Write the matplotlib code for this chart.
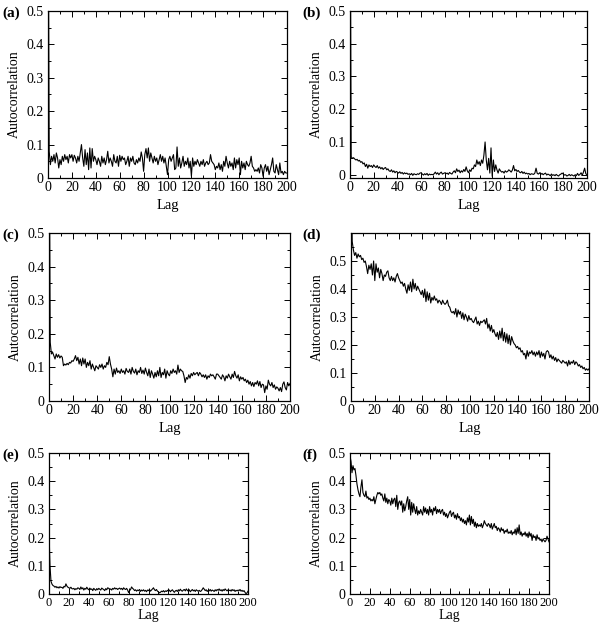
import numpy as np
import matplotlib
matplotlib.use("Agg")
import matplotlib.pyplot as plt
from matplotlib.ticker import MultipleLocator, FixedLocator, FuncFormatter

plt.rcParams['font.family'] = ['Liberation Serif', 'DejaVu Serif']

# autocorrelation, lags 0..200
acf_a = [1.0, 0.08, 0.04, 0.065, 0.05, 0.07, 0.045, 0.075, 0.06, 0.03,
         0.055, 0.04, 0.065, 0.05, 0.07, 0.055, 0.065, 0.045, 0.07, 0.06,
         0.07, 0.05, 0.068, 0.06, 0.045, 0.065, 0.05, 0.075, 0.1, 0.06,
         0.035, 0.085, 0.04, 0.075, 0.025, 0.09, 0.03, 0.088, 0.05, 0.065,
         0.055, 0.04, 0.06, 0.05, 0.035, 0.065, 0.045, 0.06, 0.04, 0.055,
         0.08, 0.045, 0.06, 0.05, 0.035, 0.07, 0.05, 0.045, 0.065, 0.035,
         0.068, 0.05, 0.065, 0.055, 0.06, 0.04, 0.05, 0.065, 0.035, 0.06,
         0.05, 0.065, 0.045, 0.04, 0.055, 0.045, 0.06, 0.05, 0.078, 0.06,
         0.02, 0.07, 0.088, 0.06, 0.09, 0.05, 0.075, 0.06, 0.045, 0.065,
         0.05, 0.06, 0.04, 0.055, 0.07, 0.05, 0.065, 0.045, 0.06, 0.035,
         0.01, 0.055, 0.065, 0.05, 0.06, 0.07, 0.025, 0.03, 0.093, 0.035,
         0.06, 0.03, 0.045, 0.065, 0.035, 0.05, 0.04, 0.06, 0.03, 0.05,
         0.005, 0.06, 0.035, 0.05, 0.04, 0.055, 0.045, 0.035, 0.05, 0.04,
         0.055, 0.035, 0.045, 0.05, 0.04, 0.045, 0.07, 0.05, 0.045, 0.04,
         0.025, 0.035, 0.03, 0.045, 0.025, 0.04, 0.02, 0.05, 0.035, 0.065,
         0.045, 0.03, 0.05, 0.035, 0.045, 0.025, 0.06, 0.03, 0.055, 0.04,
         0.06, 0.01, 0.05, 0.03, 0.045, 0.025, 0.05, 0.04, 0.035, 0.045,
         0.065, 0.035, 0.03, 0.02, 0.025, 0.02, 0.03, 0.015, 0.04, 0.03,
         0.005, 0.03, 0.04, 0.02, 0.035, 0.01, 0.025, 0.04, 0.06, 0.02,
         0.015, 0.04, 0.025, 0.01, 0.045, 0.015, 0.02, 0.01, 0.02, 0.015,
         0.015]

acf_b = [1.0, 0.055, 0.05, 0.052, 0.048, 0.045, 0.047, 0.042, 0.044, 0.038,
         0.04, 0.033, 0.036, 0.025, 0.032, 0.02, 0.03, 0.025, 0.028, 0.022,
         0.03, 0.025, 0.022, 0.028, 0.02, 0.024, 0.018, 0.022, 0.016, 0.02,
         0.022, 0.015, 0.018, 0.012, 0.01, 0.015, 0.008, 0.012, 0.006, 0.01,
         0.008, 0.005, 0.009, 0.004, 0.007, 0.002, 0.006, 0.003, 0.005, 0.001,
         0.003, 0.0, 0.004, -0.002, 0.003, 0.001, 0.0, 0.003, 0.001, 0.005,
         0.006, 0.002, -0.001, 0.003, 0.0, 0.004, -0.002, 0.002, 0.0, 0.001,
         0.0, 0.003, 0.008, 0.002, 0.006, 0.0, 0.005, 0.008, 0.002, 0.004,
         0.006, 0.003, 0.005, 0.001, 0.007, 0.004, 0.002, 0.008, 0.012, 0.006,
         0.018, 0.01, 0.014, 0.006, 0.012, 0.008, 0.016, 0.01, 0.024, 0.012,
         0.006, 0.015, 0.01, 0.02, 0.018, 0.03, 0.025, 0.045, 0.032, 0.04,
         0.028, 0.045, 0.035, 0.06, 0.1, 0.045, 0.015, 0.05, 0.005, 0.082,
         -0.005, 0.045, 0.01, 0.03, 0.015, 0.005, 0.018, 0.012, 0.008, 0.01,
         0.005, 0.012, 0.008, 0.01, 0.015, 0.012, 0.008, 0.014, 0.028, 0.012,
         0.016, 0.01, 0.013, 0.008, 0.006, 0.01, 0.004, 0.008, 0.003, 0.005,
         0.002, 0.004, 0.0, 0.003, 0.002, 0.001, 0.005, 0.02, 0.004, 0.002,
         0.006, 0.001, 0.004, 0.0, 0.003, 0.005, -0.001, 0.002, 0.0, -0.003,
         0.002, -0.002, 0.0, -0.003, 0.001, -0.002, -0.004, 0.0, 0.002, 0.005,
         0.002, -0.001, 0.0, -0.004, -0.002, 0.001, -0.003, 0.0, -0.002, -0.004,
         0.0, -0.003, 0.004, -0.002, 0.001, 0.006, -0.002, 0.008, 0.02, 0.003,
         0.0]

acf_c = [1.0, 0.175, 0.14, 0.145, 0.135, 0.125, 0.14, 0.13, 0.138, 0.128,
         0.134, 0.13, 0.105, 0.11, 0.107, 0.112, 0.108, 0.115, 0.113, 0.12,
         0.118, 0.125, 0.135, 0.12, 0.13, 0.11, 0.125, 0.105, 0.128, 0.11,
         0.125, 0.1, 0.115, 0.105, 0.12, 0.095, 0.11, 0.1, 0.09, 0.105,
         0.1, 0.095, 0.108, 0.1, 0.11, 0.095, 0.105, 0.1, 0.115, 0.108,
         0.132, 0.11, 0.095, 0.072, 0.095, 0.08, 0.098, 0.085, 0.09, 0.082,
         0.095, 0.085, 0.09, 0.08, 0.097, 0.088, 0.085, 0.095, 0.08, 0.1,
         0.088, 0.083, 0.095, 0.078, 0.09, 0.085, 0.1, 0.082, 0.092, 0.08,
         0.098, 0.085, 0.075, 0.095, 0.07, 0.09, 0.08, 0.068, 0.085, 0.072,
         0.09, 0.075, 0.1, 0.07, 0.085, 0.078, 0.095, 0.068, 0.09, 0.08,
         0.075, 0.09, 0.082, 0.095, 0.085, 0.09, 0.08, 0.107, 0.085, 0.095,
         0.09, 0.088, 0.075, 0.055, 0.07, 0.065, 0.078, 0.068, 0.082, 0.075,
         0.085, 0.078, 0.082, 0.085, 0.075, 0.085, 0.08, 0.072, 0.078, 0.07,
         0.078, 0.065, 0.075, 0.07, 0.08, 0.075, 0.078, 0.072, 0.065, 0.08,
         0.08, 0.075, 0.07, 0.065, 0.078, 0.072, 0.06, 0.075, 0.068, 0.08,
         0.072, 0.065, 0.08, 0.07, 0.088, 0.075, 0.068, 0.078, 0.06, 0.072,
         0.065, 0.07, 0.06, 0.065, 0.055, 0.062, 0.05, 0.058, 0.045, 0.055,
         0.043, 0.055, 0.05, 0.06, 0.045, 0.058, 0.04, 0.05, 0.048, 0.025,
         0.045, 0.035, 0.062, 0.05, 0.045, 0.055, 0.04, 0.048, 0.035, 0.042,
         0.038, 0.03, 0.04, 0.028, 0.05, 0.057, 0.04, 0.033, 0.055, 0.045,
         0.052]

acf_d = [1.0, 0.57, 0.54, 0.52, 0.53, 0.51, 0.525, 0.515, 0.52, 0.505,
         0.51, 0.495, 0.5, 0.48, 0.455, 0.485, 0.47, 0.49, 0.45, 0.5,
         0.43, 0.49, 0.46, 0.475, 0.44, 0.47, 0.455, 0.43, 0.45, 0.445,
         0.46, 0.465, 0.44, 0.43, 0.445, 0.43, 0.44, 0.425, 0.445, 0.455,
         0.44, 0.43, 0.42, 0.425, 0.41, 0.42, 0.4, 0.385, 0.415, 0.395,
         0.425, 0.39, 0.435, 0.4, 0.42, 0.395, 0.41, 0.4, 0.39, 0.38,
         0.395, 0.37, 0.4, 0.355, 0.39, 0.36, 0.385, 0.35, 0.37, 0.36,
         0.375, 0.36, 0.365, 0.35, 0.36, 0.355, 0.345, 0.36, 0.35, 0.345,
         0.35, 0.36, 0.34, 0.335, 0.32, 0.315, 0.32, 0.31, 0.33, 0.3,
         0.325, 0.31, 0.32, 0.295, 0.315, 0.29, 0.31, 0.3, 0.285, 0.305,
         0.29, 0.295, 0.285, 0.28, 0.29, 0.3, 0.275, 0.285, 0.27, 0.285,
         0.28, 0.285, 0.29, 0.275, 0.295, 0.26, 0.275, 0.25, 0.27, 0.245,
         0.255, 0.24, 0.23, 0.245, 0.22, 0.25, 0.225, 0.26, 0.215, 0.245,
         0.21, 0.24, 0.205, 0.235, 0.2, 0.23, 0.215, 0.205, 0.2, 0.19,
         0.195, 0.185, 0.19, 0.175, 0.18, 0.165, 0.17, 0.15, 0.18, 0.16,
         0.175, 0.17, 0.18, 0.165, 0.175, 0.16, 0.175, 0.165, 0.18, 0.155,
         0.175, 0.16, 0.17, 0.15, 0.175, 0.18, 0.175, 0.155, 0.165, 0.15,
         0.16, 0.145, 0.155, 0.14, 0.15, 0.145, 0.14, 0.135, 0.145, 0.14,
         0.135, 0.14, 0.125, 0.145, 0.13, 0.14, 0.135, 0.145, 0.13, 0.14,
         0.135, 0.125, 0.13, 0.12, 0.125, 0.115, 0.12, 0.11, 0.115, 0.11,
         0.115]

acf_e = [0.22, 0.1, 0.045, 0.035, 0.03, 0.028, 0.024, 0.027, 0.022, 0.025,
         0.021, 0.026, 0.023, 0.024, 0.02, 0.027, 0.025, 0.036, 0.028, 0.024,
         0.022, 0.02, 0.024, 0.019, 0.018, 0.02, 0.015, 0.019, 0.017, 0.022,
         0.02, 0.016, 0.025, 0.018, 0.022, 0.014, 0.02, 0.017, 0.024, 0.018,
         0.015, 0.021, 0.016, 0.018, 0.012, 0.02, 0.016, 0.013, 0.019, 0.015,
         0.02, 0.017, 0.014, 0.021, 0.018, 0.016, 0.012, 0.019, 0.015, 0.022,
         0.02, 0.016, 0.018, 0.014, 0.02, 0.017, 0.022, 0.018, 0.02, 0.016,
         0.019, 0.021, 0.017, 0.02, 0.015, 0.022, 0.018, 0.016, 0.02, 0.014,
         0.005, 0.012, 0.016, 0.025, 0.02, 0.017, 0.012, 0.015, 0.01, 0.014,
         0.012, 0.016, 0.009, 0.014, 0.011, 0.015, 0.01, 0.013, 0.008, 0.014,
         0.012, 0.016, 0.01, 0.014, 0.018, 0.022, 0.015, 0.012, 0.016, 0.01,
         0.008, 0.004, 0.006, 0.01, 0.008, 0.012, 0.007, 0.011, 0.009, 0.013,
         0.01, 0.014, 0.008, 0.012, 0.015, 0.01, 0.006, 0.011, 0.013, 0.009,
         0.015, 0.011, 0.017, 0.012, 0.01, 0.014, 0.016, 0.011, 0.018, 0.013,
         0.01, 0.015, 0.008, 0.012, 0.016, 0.011, 0.014, 0.009, 0.015, 0.012,
         0.01, 0.013, 0.009, 0.011, 0.016, 0.022, 0.017, 0.012, 0.015, 0.009,
         0.013, 0.011, 0.016, 0.01, 0.014, 0.012, 0.009, 0.015, 0.011, 0.016,
         0.013, 0.018, 0.012, 0.015, 0.01, 0.016, 0.012, 0.018, 0.014, 0.011,
         0.015, 0.012, 0.014, 0.01, 0.016, 0.012, 0.015, 0.009, 0.013, 0.011,
         0.014, 0.012, 0.016, 0.01, 0.013, 0.009, 0.012, 0.006, 0.001, 0.004,
         0.01]

acf_f = [0.49, 0.47, 0.43, 0.455, 0.44, 0.445, 0.42, 0.39, 0.37, 0.355,
         0.345, 0.38, 0.405, 0.36, 0.35, 0.345, 0.365, 0.34, 0.345, 0.335,
         0.34, 0.33, 0.335, 0.33, 0.345, 0.32, 0.335, 0.35, 0.36, 0.355,
         0.36, 0.35, 0.355, 0.34, 0.33, 0.355, 0.325, 0.34, 0.32, 0.335,
         0.33, 0.315, 0.34, 0.32, 0.335, 0.34, 0.31, 0.35, 0.3, 0.325,
         0.33, 0.315, 0.33, 0.29, 0.32, 0.295, 0.31, 0.33, 0.345, 0.3,
         0.335, 0.28, 0.325, 0.29, 0.32, 0.3, 0.285, 0.31, 0.28, 0.295,
         0.285, 0.3, 0.29, 0.28, 0.31, 0.29, 0.305, 0.285, 0.3, 0.28,
         0.31, 0.29, 0.3, 0.28, 0.305, 0.295, 0.31, 0.285, 0.3, 0.29,
         0.3, 0.285, 0.295, 0.3, 0.28, 0.29, 0.275, 0.285, 0.27, 0.28,
         0.29, 0.295, 0.275, 0.285, 0.29, 0.27, 0.28, 0.265, 0.285, 0.27,
         0.275, 0.26, 0.27, 0.255, 0.265, 0.25, 0.26, 0.245, 0.27, 0.255,
         0.28, 0.245, 0.275, 0.25, 0.265, 0.24, 0.255, 0.235, 0.25, 0.24,
         0.245, 0.24, 0.25, 0.235, 0.245, 0.26, 0.25, 0.245, 0.24, 0.25,
         0.245, 0.235, 0.25, 0.23, 0.24, 0.25, 0.235, 0.24, 0.225, 0.235,
         0.23, 0.22, 0.235, 0.225, 0.23, 0.215, 0.225, 0.22, 0.23, 0.215,
         0.22, 0.215, 0.225, 0.21, 0.22, 0.215, 0.23, 0.21, 0.235, 0.215,
         0.245, 0.21, 0.22, 0.205, 0.215, 0.21, 0.22, 0.205, 0.215, 0.2,
         0.22, 0.205, 0.215, 0.19, 0.21, 0.2, 0.205, 0.19, 0.21, 0.195,
         0.2, 0.19, 0.195, 0.185, 0.195, 0.19, 0.185, 0.19, 0.205, 0.195,
         0.185]

lags = np.arange(201)
panel_letters = ['(a)', '(b)', '(c)', '(d)', '(e)', '(f)']
panel_data = [acf_a, acf_b, acf_c, acf_d, acf_e, acf_f]
y_limits = [(0, 0.5), (-0.01, 0.5), (0, 0.5), (0, 0.6), (0, 0.5), (0, 0.5)]
y_major = [0, 0.1, 0.2, 0.3, 0.4, 0.5]

# axes boxes in pixels: left, top, right, bottom
boxes = [(48, 11, 287, 178), (350, 11, 587, 178),
         (49, 233, 290, 401), (351, 233, 589, 401),
         (49, 453, 248, 594), (350, 453, 549, 594)]
letter_x = [2, 302, 2, 302, 2, 302]
# the bottom pair is drawn smaller, so its x labels are smaller too
xtick_size = [10, 10, 10, 10, 9, 9]
xlabel_size = [10.5, 10.5, 10.5, 10.5, 10, 10]
xlabel_pad = [3, 3, 3, 3, 0, 0]

W, H = 602, 626
fig = plt.figure(figsize=(W / 100, H / 100), dpi=100)

for i in range(6):
    l, t, r, b = boxes[i]
    ax = fig.add_axes([l / W, 1 - b / H, (r - l) / W, (b - t) / H])
    ax.plot(lags, panel_data[i], color='black', lw=0.8)
    ax.set_xlim(0, 200)
    ax.set_ylim(*y_limits[i])
    ax.xaxis.set_major_locator(MultipleLocator(20))
    ax.xaxis.set_minor_locator(MultipleLocator(10))
    ax.yaxis.set_major_locator(FixedLocator(y_major))
    ax.yaxis.set_minor_locator(MultipleLocator(0.05))
    ax.yaxis.set_major_formatter(FuncFormatter(lambda v, p: '0' if abs(v) < 1e-9 else '%.1f' % v))
    ax.tick_params(which='both', direction='in', top=True, right=True, width=0.7)
    ax.tick_params(which='major', length=4, pad=3)
    ax.tick_params(which='minor', length=2)
    ax.tick_params(axis='y', labelsize=10)
    ax.tick_params(axis='x', labelsize=xtick_size[i], pad=2.5)
    for s in ax.spines.values():
        s.set_linewidth(0.9)
    ax.set_xlabel('Lag', fontsize=xlabel_size[i], labelpad=xlabel_pad[i])
    ax.set_ylabel('Autocorrelation', fontsize=10, labelpad=4)
    fig.text(letter_x[i] / W, 1 - (t + 2) / H, panel_letters[i], fontsize=11,
             fontweight='bold', ha='left', va='center')

fig.savefig('out.png', dpi=100)
